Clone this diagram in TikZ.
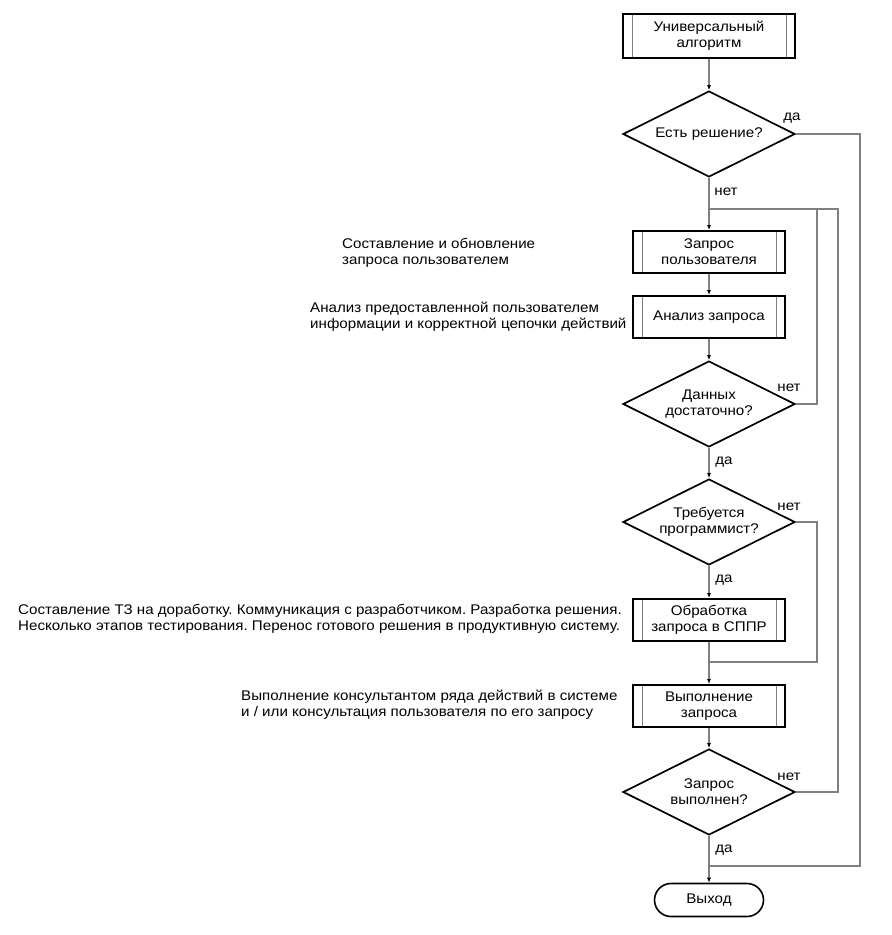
\documentclass[tikz,border=0pt]{standalone}
\usepackage{fontspec}
\setmainfont[FakeStretch=1.08]{Liberation Sans}
\frenchspacing
\usetikzlibrary{shapes.geometric,shapes.misc,arrows.meta}

\tikzset{
  txt/.style={font=\fontsize{14}{16}\selectfont},
  block/.style={txt, draw=black, line width=2pt, minimum width=152pt,
    minimum height=42pt, inner sep=0pt, align=center,
    path picture={
      \draw[gray, line width=1pt]
        ([xshift=9pt]path picture bounding box.north west) --
        ([xshift=9pt]path picture bounding box.south west);
      \draw[gray, line width=1pt]
        ([xshift=-9pt]path picture bounding box.north east) --
        ([xshift=-9pt]path picture bounding box.south east);
    }},
  decision/.style={txt, diamond, aspect=2, draw=black, line width=1.7pt,
    minimum width=172pt, minimum height=86pt, inner sep=0pt, align=center},
  terminal/.style={txt, rounded rectangle, draw=black, line width=1.6pt,
    minimum width=109pt, minimum height=33pt, inner sep=0pt},
  note/.style={txt, anchor=north west, inner sep=0pt, align=left},
  answer/.style={txt, inner sep=0pt},
  line/.style={draw=gray, line width=1.3pt},
  arr/.style={line, -{Latex[length=5pt, width=4pt, color=black]}},
}

\begin{document}
\begin{tikzpicture}[x=1pt, y=-1pt]
    \useasboundingbox (0,0) rectangle (892,935);

    \def\axis{709}
    \def\loopa{817}
    \def\loopb{838}
    \def\loopc{860}

    % Blocks along the main axis
    \node[block, minimum width=172pt, minimum height=44pt] (start) at (\axis,36) {Универсальный\\алгоритм};
    \node[decision] (solved) at (\axis,134) {Есть решение?};
    \node[block] (request) at (\axis,252) {Запрос\\пользователя};
    \node[block] (analysis) at (\axis,317) {Анализ запроса};
    \node[decision] (enough) at (\axis,404) {Данных\\достаточно?};
    \node[decision] (coder) at (\axis,522) {Требуется\\программист?};
    \node[block] (dss) at (\axis,620) {Обработка\\запроса в СППР};
    \node[block] (execute) at (\axis,706) {Выполнение\\запроса};
    \node[decision] (done) at (\axis,792) {Запрос\\выполнен?};
    \node[terminal] (exit) at (\axis,900) {Выход};

    % Join points
    \coordinate (j1) at (\axis,209);
    \coordinate (j2) at (\axis,662);
    \coordinate (j3) at (\axis,866);

    % Main flow
    \draw[arr] (start) -- (solved);
    \draw[arr] (solved) -- (request);
    \draw[arr] (request) -- (analysis);
    \draw[arr] (analysis) -- (enough);
    \draw[arr] (enough) -- (coder);
    \draw[arr] (coder) -- (dss);
    \draw[arr] (dss) -- (execute);
    \draw[arr] (execute) -- (done);
    \draw[arr] (done) -- (exit);

    % Loops back
    \draw[line] (enough.east) -- (\loopa,404) -- (\loopa,209) -- (j1);
    \draw[line] (done.east) -- (\loopb,792) -- (\loopb,209) -- (j1);
    \draw[line] (coder.east) -- (\loopa,522) -- (\loopa,662) -- (j2);
    \draw[line] (solved.east) -- (\loopc,134) -- (\loopc,866) -- (j3);

    % Answers
    \node[answer] (a1) at (792,118) {да};
    \node[answer] (a2) at (726,192) {нет};
    \node[answer] (a3) at (789,388) {нет};
    \node[answer] (a4) at (724,462) {да};
    \node[answer] (a5) at (789,507) {нет};
    \node[answer] (a6) at (724,580) {да};
    \node[answer] (a7) at (789,777) {нет};
    \node[answer] (a8) at (724,850) {да};

    % Notes
    \node[note] (n1) at (342,238) {Составление и обновление\\запроса пользователем};
    \node[note] (n2) at (310,302) {Анализ предоставленной пользователем\\информации и корректной цепочки действий};
    \node[note] (n3) at (18,604) {Составление ТЗ на доработку. Коммуникация с разработчиком. Разработка решения.\\Несколько этапов тестирования. Перенос готового решения в продуктивную систему.};
    \node[note] (n4) at (241,690) {Выполнение консультантом ряда действий в системе\\и / или консультация пользователя по его запросу};
\end{tikzpicture}
\end{document}
